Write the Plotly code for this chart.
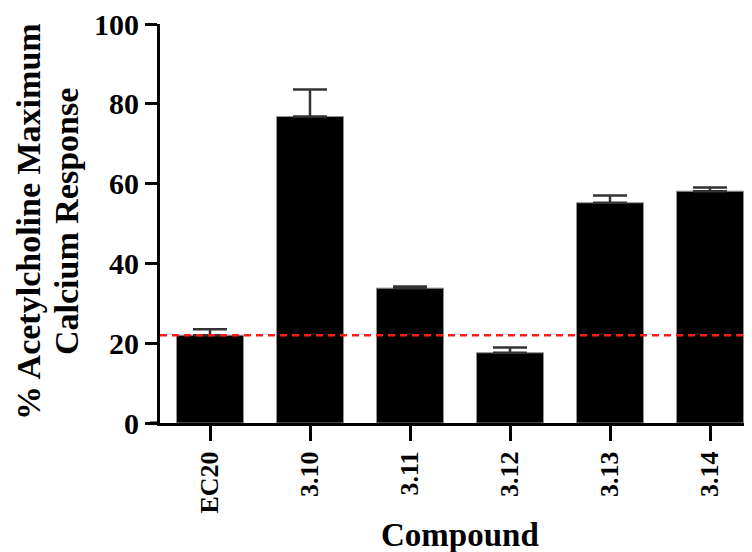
import plotly.graph_objects as go

categories = ["EC20", "3.10", "3.11", "3.12", "3.13", "3.14"]
values = [22.0, 76.8, 33.8, 17.6, 55.2, 58.1]
errors_up = [1.5, 6.8, 0.4, 1.3, 1.8, 0.9]
ec20_level = 22.0
y_ticks = [0, 20, 40, 60, 80, 100]

FONT = "Liberation Serif"
PLOT_W = 592
PLOT_H = 399

fig = go.Figure()
fig.add_trace(go.Bar(
    x=list(range(len(categories))),
    y=values,
    width=0.67,
    marker=dict(color="black", line=dict(color="#909090", width=1)),
    error_y=dict(type="data", symmetric=False, array=errors_up,
                 arrayminus=[0] * len(values), color="#333333",
                 thickness=2.5, width=17),
    showlegend=False,
))

fig.add_shape(type="line", xref="paper", yref="y", x0=0, x1=1,
              y0=ec20_level, y1=ec20_level,
              line=dict(color="#ff1a1a", width=2.5, dash="7px,5px"))
# x-axis line extension left of the y axis (GraphPad style)
fig.add_shape(type="line", xref="paper", yref="y", x0=-10 / PLOT_W, x1=0,
              y0=0, y1=0, line=dict(color="black", width=3))

fig.update_layout(
    width=744, height=544,
    margin=dict(l=152, r=0, t=16, b=129, autoexpand=False),
    plot_bgcolor="white", paper_bgcolor="white",
    font=dict(family=FONT, color="black"),
    xaxis=dict(
        range=[-0.5, 5.42],
        tickmode="array",
        tickvals=list(range(len(categories))),
        ticktext=[f"<b>{c}</b>" for c in categories],
        tickangle=-90,
        tickfont=dict(family=FONT, size=26, color="black"),
        ticks="outside", ticklen=15, tickwidth=3, tickcolor="black",
        showline=True, linecolor="black", linewidth=3,
        showgrid=False, zeroline=False,
        ticklabeloverflow="allow",
    ),
    yaxis=dict(
        range=[0, 100],
        tickmode="array",
        tickvals=y_ticks,
        ticktext=[f"<b>{v}</b>" for v in y_ticks],
        tickfont=dict(family=FONT, size=30, color="black"),
        ticks="outside", ticklen=12, tickwidth=3, tickcolor="black",
        showline=True, linecolor="black", linewidth=3,
        showgrid=False, zeroline=False,
        ticklabeloverflow="allow",
    ),
    annotations=[
        dict(text="<b>% Acetylcholine Maximum</b>",
             textangle=-90, xref="paper", yref="paper",
             x=(28 - 160) / PLOT_W, y=(423 - 222) / PLOT_H,
             xanchor="center", yanchor="middle", showarrow=False,
             font=dict(family=FONT, size=34, color="black")),
        dict(text="<b>Calcium Response</b>",
             textangle=-90, xref="paper", yref="paper",
             x=(66 - 160) / PLOT_W, y=(423 - 222) / PLOT_H,
             xanchor="center", yanchor="middle", showarrow=False,
             font=dict(family=FONT, size=34, color="black")),
        dict(text="<b>Compound</b>",
             xref="paper", yref="paper",
             x=(460 - 160) / PLOT_W, y=(423 - 535) / PLOT_H,
             xanchor="center", yanchor="middle", showarrow=False,
             font=dict(family=FONT, size=33, color="black")),
    ],
)

fig.write_html("out.html")
